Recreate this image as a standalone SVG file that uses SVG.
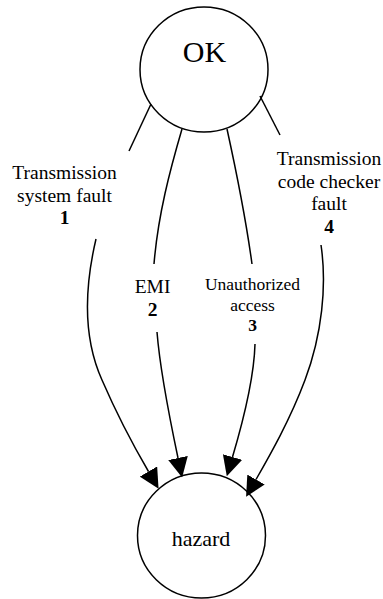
<svg xmlns="http://www.w3.org/2000/svg" width="383" height="599" viewBox="0 0 383 599">
<style>
  .node { fill: #ffffff; stroke: #000000; stroke-width: 1.5; }
  .edge { fill: none; stroke: #000000; stroke-width: 1.5; }
  text { fill: #000000; text-anchor: middle; }
  .lbl { font-size: 19.5px; }
  .lbl-s { font-size: 17.5px; }
  .num { font-weight: bold; }
</style>
<defs>
  <marker id="arrow" markerUnits="userSpaceOnUse" markerWidth="20" markerHeight="20" refX="0" refY="9" viewBox="0 0 18 18" orient="auto">
    <path d="M0,0 L18,9 L0,18 Z" fill="#000000"/>
  </marker>
</defs>
<g font-family="'Liberation Serif', 'DejaVu Serif', serif">
<g id="node-ok">
  <ellipse class="node" cx="204" cy="69.5" rx="64" ry="62.5"/>
  <text x="204.5" y="62" font-size="30">OK</text>
</g>
<g id="node-hazard">
  <ellipse class="node" cx="201.5" cy="535.5" rx="64" ry="62.5"/>
  <text x="201" y="546" font-size="22">hazard</text>
</g>
<g id="connectors">
  <g id="edge1">
    <path class="edge" d="M151,104 L129,151"/>
    <path class="edge" d="M96,239 C84,290 84,340 102,380 C115,410 133,445 148.5,471.5" marker-end="url(#arrow)"/>
    <text class="lbl" x="64.5" y="179">Transmission</text>
    <text class="lbl" x="64.5" y="201.5">system fault</text>
    <text class="lbl num" x="64.5" y="224">1</text>
  </g>
  <g id="edge2">
    <path class="edge" d="M182,129 C170,170 158,215 154,264"/>
    <path class="edge" d="M157,332 C160,370 170,420 178,458" marker-end="url(#arrow)"/>
    <text class="lbl" x="152.5" y="293">EMI</text>
    <text class="lbl num" x="152.5" y="316">2</text>
  </g>
  <g id="edge3">
    <path class="edge" d="M227,129 C236,170 246,220 252,264"/>
    <path class="edge" d="M255,344 C254,380 242,425 232.5,457" marker-end="url(#arrow)"/>
    <text class="lbl-s" x="252.5" y="290">Unauthorized</text>
    <text class="lbl-s" x="252.5" y="311">access</text>
    <text class="lbl-s num" x="252.5" y="331">3</text>
  </g>
  <g id="edge4">
    <path class="edge" d="M260,96 L280,135"/>
    <path class="edge" d="M321,245 C327,285 322,335 305,380 C290,420 270,455 256,479.5" marker-end="url(#arrow)"/>
    <text class="lbl" x="329" y="165">Transmission</text>
    <text class="lbl" x="329" y="187.5">code checker</text>
    <text class="lbl" x="329" y="210">fault</text>
    <text class="lbl num" x="329" y="232.5">4</text>
  </g>
</g>
</g>
</svg>
